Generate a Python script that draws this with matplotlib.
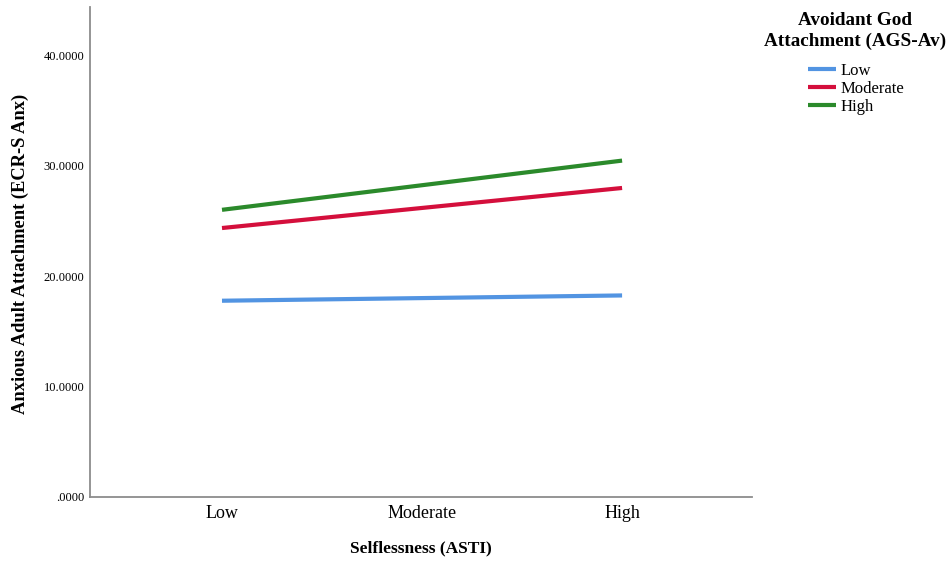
import matplotlib
matplotlib.use("Agg")
import matplotlib.pyplot as plt
from matplotlib.ticker import FuncFormatter

categories = ["Low", "Moderate", "High"]
series_names = ["Low", "Moderate", "High"]
low_vals = [17.76, 18.0, 18.24]
moderate_vals = [24.35, 26.17, 27.98]
high_vals = [26.0, 28.23, 30.46]
colors = ["#5294e2", "#d40f3c", "#2b8a2b"]
y_ticks = [0, 10, 20, 30, 40]

plt.rcParams['font.family'] = ['Liberation Serif', 'DejaVu Serif']

fig = plt.figure(figsize=(9.5, 5.67), dpi=100)
ax = fig.add_axes([0.0947, 0.124, 0.697, 0.864])

x = list(range(len(categories)))
for name, vals, c in zip(series_names, [low_vals, moderate_vals, high_vals], colors):
    ax.plot(x, vals, color=c, lw=3.0, label=name, solid_capstyle='butt')

ax.set_xlim(-0.66, 2.65)
ax.set_ylim(0, 44.4)
ax.set_xticks(x)
ax.set_xticklabels(categories, fontsize=13)
ax.set_yticks(y_ticks)
ax.yaxis.set_major_formatter(FuncFormatter(lambda v, p: ".0000" if v == 0 else f"{v:.4f}"))
ax.tick_params(axis='y', labelsize=9, length=0, pad=4)
ax.tick_params(axis='x', length=0, pad=6)

for s in ["top", "right"]:
    ax.spines[s].set_visible(False)
for s in ["left", "bottom"]:
    ax.spines[s].set_color("#8c8c8c")
    ax.spines[s].set_linewidth(1.3)

ax.set_xlabel("Selflessness (ASTI)", fontsize=12.5, fontweight='bold', labelpad=13)
ax.set_ylabel("Anxious Adult Attachment (ECR-S Anx)", fontsize=13.3, fontweight='bold')
ax.yaxis.set_label_coords(-0.092, 0.496)

fig.text(855 / 950, 1 - 31 / 567, "Avoidant God\nAttachment (AGS-Av)", ha='center', va='center',
         fontsize=13.8, fontweight='bold', linespacing=1.3)

leg = ax.legend(loc="upper left", bbox_to_anchor=(808 / 950, 1 - 63 / 567),
                bbox_transform=fig.transFigure, frameon=False, fontsize=12,
                handlelength=1.7, handletextpad=0.25, labelspacing=0.12,
                borderpad=0, borderaxespad=0)

fig.savefig("out.png", dpi=100)
